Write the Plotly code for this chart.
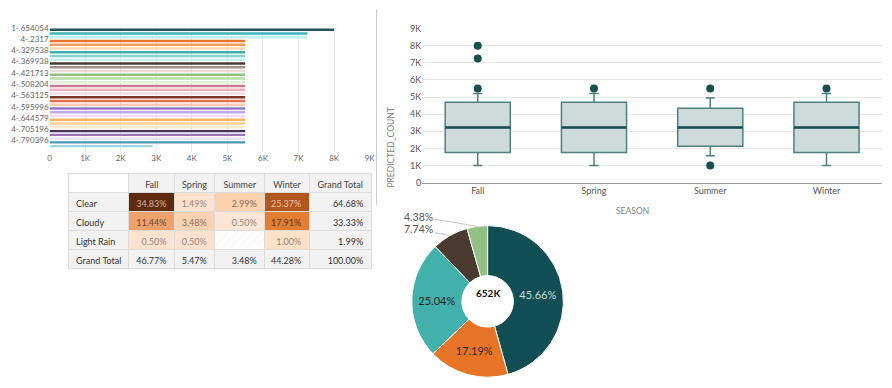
import math
import plotly.graph_objects as go

W, H = 892, 388
FONT = "Lato, 'Noto Sans', sans-serif"

# ---------------- data: horizontal bar chart ----------------
bar_labels = ["1-.654054", "4-.2317", "4-.329538", "4-.369938", "4-.421713", "4-.508204",
              "4-.563125", "4-.595996", "4-.644579", "4-.705196", "4-.790396"]
bar_s1 = [8000, 5500, 5500, 5500, 5500, 5500, 5500, 5500, 5500, 5500, 5500]
bar_s2 = [7250, 5500, 5500, 5500, 5500, 5500, 5500, 5500, 5500, 5500, 2900]
bar_s3 = [7250, 5500, 5500, 5500, 5500, 5500, 5500, 5500, 5500, 5500, None]
bar_col1 = ["#26545a", "#e9772f", "#3eb0aa", "#4b3a33", "#8fc082", "#c67b8c",
            "#7b3623", "#9275c4", "#fbb55f", "#4b2f56", "#4a98ae"]
bar_col2 = ["#42b3b8", "#f39c61", "#86d3ce", "#a58f86", "#b5dca6", "#eeb1bd",
            "#e86f4c", "#c1a9e8", "#fdcf8e", "#9a72b9", "#9ed3df"]
bar_col3 = ["#c3eef2", "#fdd7b3", "#c7efec", "#ecdcd5", "#def1d4", "#fcdde3",
            "#fcc9b2", "#eadcfa", "#feeac8", "#eddcf7", "#ffffff"]
k_ticks = [0, 1000, 2000, 3000, 4000, 5000, 6000, 7000, 8000, 9000]
k_ticktext = ["0", "1K", "2K", "3K", "4K", "5K", "6K", "7K", "8K", "9K"]

# ---------------- data: box plot ----------------
seasons = ["Fall", "Spring", "Summer", "Winter"]
box_q1 = [1760, 1760, 2120, 1760]
box_median = [3220, 3220, 3220, 3220]
box_q3 = [4700, 4700, 4340, 4700]
box_low = [1000, 1000, 1560, 1000]
box_high = [5200, 5200, 4940, 5200]
outlier_season = ["Fall", "Fall", "Fall", "Spring", "Summer", "Summer", "Winter"]
outlier_value = [8000, 7250, 5500, 5500, 5500, 1000, 5500]

# ---------------- data: pivot table ----------------
tbl_header = ["", "Fall", "Spring", "Summer", "Winter", "Grand\u00a0Total"]
tbl_rows = ["Clear", "Cloudy", "Light\u00a0Rain", "Grand\u00a0Total"]
tbl_fall = ["34.83%", "11.44%", "0.50%", "46.77%"]
tbl_spring = ["1.49%", "3.48%", "0.50%", "5.47%"]
tbl_summer = ["2.99%", "0.50%", "", "3.48%"]
tbl_winter = ["25.37%", "17.91%", "1.00%", "44.28%"]
tbl_total = ["64.68%", "33.33%", "1.99%", "100.00%"]

# ---------------- data: donut ----------------
pie_labels = ["A", "B", "C", "D", "E"]
pie_values = [45.66, 17.19, 25.04, 7.74, 4.38]
pie_colors = ["#124f55", "#e87427", "#42b0ab", "#4a3a31", "#92c184"]
pie_center_text = "652K"


def px(x):
    return x / W


def py(y):
    return 1 - y / H


fig = go.Figure()

# ---------- bars ----------
for vals, cols in ((bar_s1, bar_col1), (bar_s2, bar_col2), (bar_s3, bar_col3)):
    fig.add_trace(go.Bar(y=bar_labels, x=vals, orientation="h",
                         marker=dict(color=cols, line=dict(width=0)),
                         xaxis="x", yaxis="y", showlegend=False))

# ---------- box plot ----------
fig.add_trace(go.Box(x=seasons, q1=box_q1, median=box_median, q3=box_q3,
                     lowerfence=box_low, upperfence=box_high,
                     fillcolor="#cddbdb", line=dict(color="#4f7f82", width=1.5),
                     whiskerwidth=0.14, width=0.56, boxpoints=False,
                     xaxis="x2", yaxis="y2", showlegend=False))
fig.add_trace(go.Box(x=seasons, q1=box_median, median=box_median, q3=box_median,
                     lowerfence=box_median, upperfence=box_median,
                     fillcolor="rgba(0,0,0,0)", line=dict(color="#174f52", width=2.6),
                     whiskerwidth=0, width=0.56, boxpoints=False,
                     xaxis="x2", yaxis="y2", showlegend=False))
fig.add_trace(go.Scatter(x=outlier_season, y=outlier_value, mode="markers",
                         marker=dict(color="#174f52", size=8),
                         xaxis="x2", yaxis="y2", showlegend=False))

# ---------- pivot table ----------
col_w = [61.6, 46, 40.7, 50.7, 45, 62.6]
tx0, tx1, ty0, ty1 = 66.7, 373.3, 172.3, 266.7
hdr_h, row_h = 19, 19
GT = "#f2f2f2"
fills = [
    [GT, GT, GT, GT],
    ["#5e2a0e", "#f0a06a", "#fde3cf", GT],
    ["#fde3cf", "#fcd2b0", "#fde3cf", GT],
    ["#fcd1ad", "#fde6d5", "rgba(0,0,0,0)", GT],
    ["#b3561e", "#e27d34", "#fde0c8", GT],
    [GT, GT, GT, GT],
]
fcols = [
    ["#333333"] * 4,
    ["#d4b49c", "#6b4a35", "#9a8577", "#333333"],
    ["#9a8577", "#8a6e5c", "#9a8577", "#333333"],
    ["#8a6e5c", "#9a8577", "#9a8577", "#333333"],
    ["#e6c6ae", "#5a3a20", "#9a8577", "#333333"],
    ["#333333"] * 4,
]

# hatch for the empty cell (Light Rain / Summer), drawn under a transparent cell
hx0 = tx0 + (tx1 - tx0) * sum(col_w[:3]) / sum(col_w)
hx1 = tx0 + (tx1 - tx0) * sum(col_w[:4]) / sum(col_w)
hy0 = ty0 + hdr_h + row_h * 2
hy1 = hy0 + row_h
fig.add_trace(go.Scatter(x=[0, 1, 1, 0, 0], y=[0, 0, 1, 1, 0], mode="lines",
                         line=dict(width=0), fill="toself", fillcolor="white",
                         fillpattern=dict(shape="/", fgcolor="#c8c8c8", bgcolor="white",
                                          size=6, solidity=0.12),
                         xaxis="x3", yaxis="y3", showlegend=False, hoverinfo="skip"))

fig.add_trace(go.Table(
    domain=dict(x=[px(tx0), px(tx1)], y=[py(ty1 + 8), py(ty0)]),
    columnwidth=col_w,
    header=dict(values=tbl_header, height=hdr_h,
                fill_color=["#ffffff", GT, GT, GT, GT, GT],
                line=dict(color="#dcdcdc", width=1),
                align="center", font=dict(family=FONT, size=9, color="#444444")),
    cells=dict(values=[tbl_rows, tbl_fall, tbl_spring, tbl_summer, tbl_winter, tbl_total],
               height=row_h, fill_color=fills,
               line=dict(color="#dcdcdc", width=1),
               align=["left", "right", "right", "right", "right", "right"],
               font=dict(family=FONT, size=9, color=fcols)),
))

# ---------- donut ----------
cx, cy, R = 490, 304, 78
fig.add_trace(go.Pie(labels=pie_labels, values=pie_values, sort=False,
                     direction="clockwise", rotation=0, hole=0.34,
                     domain=dict(x=[px(cx - R), px(cx + R)], y=[py(cy + R), py(cy - R)]),
                     marker=dict(colors=pie_colors, line=dict(color="white", width=1)),
                     texttemplate="%{percent:.2%}",
                     textposition=["inside", "inside", "inside", "none", "none"],
                     insidetextorientation="horizontal",
                     insidetextfont=dict(family=FONT, size=11,
                                         color=["#c9dddd", "#2a2a2a", "#222222", "#ffffff", "#ffffff"]),
                     showlegend=False, hoverinfo="label+percent"))

annotations = []
total = sum(pie_values)
cum = 0
label_pos = {3: (421, 230), 4: (421, 217)}
for i, v in enumerate(pie_values):
    mid = (cum + v / 2) / total * 2 * math.pi
    cum += v
    if i in label_pos:
        tipx = cx + R * math.sin(mid)
        tipy = cy - R * math.cos(mid)
        lx, ly = label_pos[i]
        annotations.append(dict(x=px(tipx), y=py(tipy), xref="paper", yref="paper",
                                text=f"{v / total * 100:.2f}%", showarrow=True,
                                ax=lx - tipx, ay=ly - tipy, arrowhead=0, arrowwidth=1,
                                arrowcolor="#c4c4c4", standoff=0,
                                font=dict(family=FONT, size=10.5, color="#555555")))
annotations.append(dict(x=px(cx), y=py(cy), xref="paper", yref="paper", showarrow=False,
                        text=f"<b>{pie_center_text}</b>",
                        font=dict(family=FONT, size=10, color="#111111")))
annotations.append(dict(x=px(393), y=py(102), xref="paper", yref="paper", showarrow=False,
                        text="PREDICTED_COUNT", textangle=-90,
                        font=dict(family=FONT, size=8.5, color="#808080")))
annotations.append(dict(x=px(655), y=py(204), xref="paper", yref="paper", showarrow=False,
                        yanchor="top", text="SEASON",
                        font=dict(family=FONT, size=8.5, color="#808080")))

tickfont = dict(family=FONT, size=8, color="#666666")
fig.update_layout(
    width=W, height=H, autosize=False,
    margin=dict(l=0, r=0, t=0, b=0),
    paper_bgcolor="white", plot_bgcolor="white",
    font=dict(family=FONT),
    barmode="group", bargap=0.0, bargroupgap=0.35,
    boxmode="overlay",
    xaxis=dict(domain=[px(48), px(371)], range=[0, 9000], tickvals=k_ticks, ticktext=k_ticktext,
               showgrid=True, gridcolor="#e6eaed", gridwidth=1, zeroline=False,
               showline=False, tickfont=tickfont, ticks="", anchor="y"),
    yaxis=dict(domain=[py(150), py(22.5)], autorange="reversed", type="category",
               ticklabelposition="outside top", showgrid=False, zeroline=False,
               tickfont=tickfont, ticks="", anchor="x"),
    xaxis2=dict(domain=[px(424), px(888)], type="category", categoryarray=seasons,
                showgrid=False, showline=True, linecolor="#9a9a9a", linewidth=1,
                tickfont=dict(family=FONT, size=9, color="#555555"), ticks="", anchor="y2"),
    yaxis2=dict(domain=[py(181.7), py(23.3)], range=[0, 9000], tickvals=k_ticks, ticktext=k_ticktext,
                showgrid=True, gridcolor="#e6e6e6", zeroline=False, showline=False,
                tickfont=dict(family=FONT, size=9, color="#555555"), ticks="", anchor="x2"),
    xaxis3=dict(domain=[px(hx0), px(hx1)], range=[0, 1], visible=False, anchor="y3"),
    yaxis3=dict(domain=[py(hy1), py(hy0)], range=[0, 1], visible=False, anchor="x3"),
    annotations=annotations,
    shapes=[dict(type="line", xref="paper", yref="paper", x0=px(378), x1=px(378),
                 y0=py(205), y1=py(3), line=dict(color="#c8c8c8", width=1))],
)

fig.write_html("out.html", config={"displayModeBar": False},
               post_script="document.body.style.margin='0';document.body.style.overflow='hidden';")
